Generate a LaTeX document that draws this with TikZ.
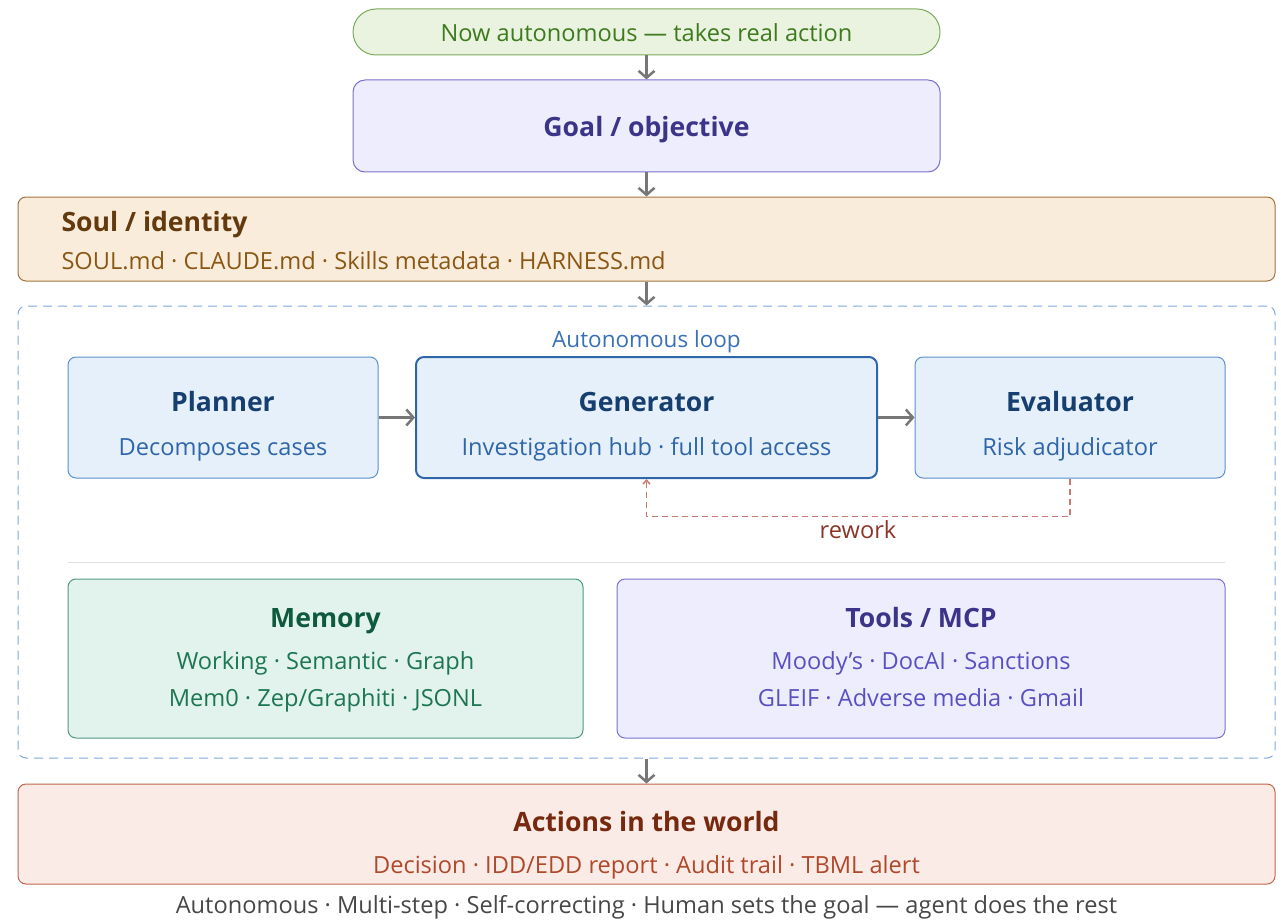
\documentclass[tikz,border=0pt]{standalone}
\usepackage{fontspec}
\setmainfont{Open Sans}
\usetikzlibrary{arrows.meta,positioning}

\definecolor{startfill}{HTML}{E9F3DF}
\definecolor{startline}{HTML}{7BAA5A}
\definecolor{starttext}{HTML}{3E7A1E}
\definecolor{goalfill}{HTML}{EEEDFD}
\definecolor{goalline}{HTML}{7B70D2}
\definecolor{goaltext}{HTML}{3C3489}
\definecolor{soulfill}{HTML}{FAECDA}
\definecolor{soulline}{HTML}{A1733F}
\definecolor{soultitle}{HTML}{633A0E}
\definecolor{soultext}{HTML}{8A5715}
\definecolor{loopline}{HTML}{80A8DE}
\definecolor{looptext}{HTML}{3A70B8}
\definecolor{agentfill}{HTML}{E6F0FB}
\definecolor{agentline}{HTML}{5B90CC}
\definecolor{agenttitle}{HTML}{163F70}
\definecolor{agenttext}{HTML}{2F66AA}
\definecolor{memfill}{HTML}{E1F3EC}
\definecolor{memline}{HTML}{4E9A7C}
\definecolor{memtitle}{HTML}{0F5A3F}
\definecolor{memtext}{HTML}{1D7653}
\definecolor{toolfill}{HTML}{EEEDFD}
\definecolor{tooltext}{HTML}{5A50C2}
\definecolor{actfill}{HTML}{FAEBE6}
\definecolor{actline}{HTML}{C2644D}
\definecolor{acttitle}{HTML}{76290F}
\definecolor{acttext}{HTML}{B0482A}
\definecolor{reworkline}{HTML}{C97A72}
\definecolor{reworktext}{HTML}{8B3528}
\definecolor{flowgray}{HTML}{777777}

\tikzset{
  box/.style={draw, line width=1pt, rounded corners=8pt, inner sep=0pt},
  flow/.style={draw=flowgray, line width=2.5pt, -{Straight Barb[length=7pt,width=16pt,line width=2.5pt]}},
  title/.style={font=\fontsize{26.6}{31}\selectfont\bfseries, anchor=base},
  body/.style={font=\fontsize{23.6}{28}\selectfont, anchor=base},
}

\begin{document}
\begin{tikzpicture}[x=1pt,y=-1pt]
  \useasboundingbox (0,0) rectangle (1281,920);

  % top of the chain
  \node[box, fill=startfill, draw=startline, rounded corners=23pt,
        minimum width=587pt, minimum height=46pt] (start) at (646.5,32) {};
  \node[body, text=starttext] (starttxt) at (646.5,41.5) {Now autonomous — takes real action};
  \node[box, fill=goalfill, draw=goalline, rounded corners=12pt,
        minimum width=587pt, minimum height=92pt] (goal) at (646.5,126) {};
  \node[title, text=goaltext] (goaltxt) at (646.5,137) {Goal / objective};
  \node[box, fill=soulfill, draw=soulline,
        minimum width=1257pt, minimum height=84pt] (soul) at (646.5,239) {};
  \node[title, text=soultitle, anchor=base west] (soultxt) at (58,231.5) {Soul / identity};
  \node[body, text=soultext, anchor=base west] (soulsub) at (58,269.5)
    {SOUL.md · CLAUDE.md · Skills metadata · HARNESS.md};

  % the loop
  \node[box, draw=loopline, dashed, dash pattern=on 9pt off 6pt,
        minimum width=1257pt, minimum height=452pt] (loop) at (646.5,532) {};
  \node[body, font=\fontsize{22.5}{27}\selectfont, text=looptext] (looptxt) at (646.5,347) {Autonomous loop};

  \node[box, fill=agentfill, draw=agentline, minimum width=310pt, minimum height=121pt] (plan) at (223,417.5) {};
  \node[box, fill=agentfill, draw=agenttext, line width=2pt, minimum width=461pt, minimum height=121pt] (gen) at (646.5,417.5) {};
  \node[box, fill=agentfill, draw=agentline, minimum width=310pt, minimum height=121pt] (eval) at (1070,417.5) {};
  \node[title, text=agenttitle] (plantxt) at (223,411) {Planner};
  \node[body, text=agenttext] (plansub) at (223,455) {Decomposes cases};
  \node[title, text=agenttitle] (gentxt) at (646.5,411) {Generator};
  \node[body, text=agenttext] (gensub) at (646.5,455) {Investigation hub · full tool access};
  \node[title, text=agenttitle] (evaltxt) at (1070,411) {Evaluator};
  \node[body, text=agenttext] (evalsub) at (1070,455) {Risk adjudicator};

  \draw[flow] (plan) -- (gen);
  \draw[flow] (gen) -- (eval);
  \draw[reworkline, line width=1.5pt, dash pattern=on 6pt off 4pt,
        -{Straight Barb[length=4pt,width=7pt]}]
    (eval.south) -- ++(0,38) -| (gen.south);
  \node[body, text=reworktext] (reworktxt) at (858,538) {rework};

  \draw[black!12, line width=1pt] (68,562) -- (1225,562);

  \node[box, fill=memfill, draw=memline, minimum width=515pt, minimum height=159pt] (mem) at (325.5,658.5) {};
  \node[title, text=memtitle] (memtxt) at (325.5,627) {Memory};
  \node[body, text=memtext] (memsub1) at (325.5,669.5) {Working · Semantic · Graph};
  \node[body, text=memtext] (memsub2) at (325.5,706.5) {Mem0 · Zep/Graphiti · JSONL};
  \node[box, fill=toolfill, draw=goalline, minimum width=608pt, minimum height=159pt] (tool) at (921,658.5) {};
  \node[title, text=goaltext] (tooltxt) at (921,627) {Tools / MCP};
  \node[body, text=tooltext] (toolsub1) at (921,669.5) {Moody's · DocAI · Sanctions};
  \node[body, text=tooltext] (toolsub2) at (921,706.5) {GLEIF · Adverse media · Gmail};

  % out into the world
  \node[box, fill=actfill, draw=actline, minimum width=1257pt, minimum height=100pt] (act) at (646.5,834) {};
  \node[title, text=acttitle] (acttxt) at (646.5,831) {Actions in the world};
  \node[body, text=acttext] (actsub) at (646.5,873) {Decision · IDD/EDD report · Audit trail · TBML alert};
  \node[body, text=black!72] (foot) at (646.5,913)
    {Autonomous · Multi-step · Self-correcting · Human sets the goal — agent does the rest};

  \draw[flow] (start) -- (goal);
  \draw[flow] (goal) -- (soul);
  \draw[flow] (soul) -- (loop);
  \draw[flow] (loop) -- (act);
\end{tikzpicture}
\end{document}
